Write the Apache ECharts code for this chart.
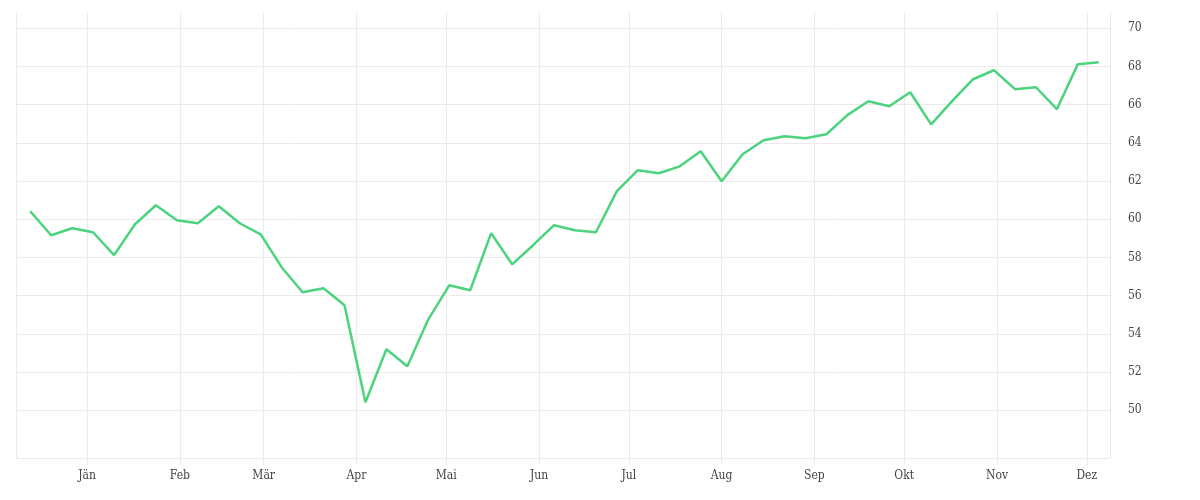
<!DOCTYPE html>
<html><head><meta charset="utf-8">
<script src="https://cdn.jsdelivr.net/npm/echarts@6/dist/echarts.min.js"></script>
<style>html,body{margin:0;background:#fff}#c{width:1200px;height:500px}</style>
</head><body><div id="c"></div>
<script>
// wöchentliche Werte, erster Punkt 13.12.2018
var startDate = Date.UTC(2018, 11, 13);
var values = [60.42,59.16,59.53,59.32,58.12,59.74,60.73,59.95,59.79,60.68,59.79,59.21,
  57.49,56.18,56.39,55.50,50.42,53.19,52.30,54.76,56.54,56.28,59.27,57.64,58.64,59.69,
  59.42,59.32,61.47,62.57,62.41,62.77,63.56,61.99,63.40,64.14,64.35,64.24,64.45,65.45,
  66.18,65.92,66.65,64.97,66.18,67.33,67.80,66.81,66.91,65.76,68.12,68.22];
var monthNames = ['Jän','Feb','Mär','Apr','Mai','Jun','Jul','Aug','Sep','Okt','Nov','Dez'];
var yTicks = [50,52,54,56,58,60,62,64,66,68,70];

var data = [];
for (var i = 0; i < values.length; i++) {
  data.push([startDate + i * 7 * 86400000, values[i]]);
}
var day = 86400000;
var chart = echarts.init(document.getElementById('c'));
chart.setOption({
  animation: false,
  grid: {left: 16, right: 90, top: 12, bottom: 42},
  xAxis: {
    type: 'time',
    min: Date.UTC(2018, 11, 8, 6),
    max: Date.UTC(2019, 11, 8, 18),
    minInterval: 28 * day,
    maxInterval: 31 * day,
    axisLine: {lineStyle: {color: '#ebebeb'}},
    axisTick: {show: true, length: 7, lineStyle: {color: '#ebebeb'}},
    splitLine: {show: true, lineStyle: {color: '#ebebeb'}},
    axisLabel: {
      color: '#444', fontFamily: 'DejaVu Serif Condensed, DejaVu Serif', fontSize: 12, margin: 12,
      formatter: function (v) { return monthNames[new Date(v).getUTCMonth()]; }
    }
  },
  yAxis: {
    type: 'value',
    position: 'right',
    min: 47.5,
    max: 70.85,
    axisLine: {show: true, lineStyle: {color: '#ebebeb'}},
    axisTick: {show: false, customValues: yTicks},
    splitLine: {show: true, lineStyle: {color: '#ebebeb'}},
    axisLabel: {
      customValues: yTicks, color: '#444', margin: 18,
      fontFamily: 'DejaVu Serif Condensed, DejaVu Serif', fontSize: 12
    }
  },
  series: [{
    type: 'line',
    data: data,
    showSymbol: false,
    lineStyle: {color: '#4cd37e', width: 2.5},
    itemStyle: {color: '#4cd37e'}
  }]
});
</script>
</body></html>
